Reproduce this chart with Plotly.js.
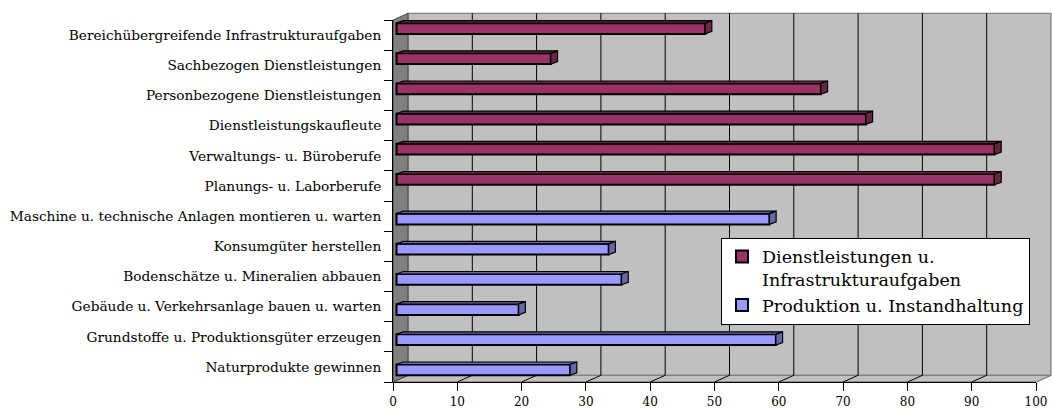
<!DOCTYPE html>
<html>
<head>
<meta charset="utf-8">
<script src="https://cdn.plot.ly/plotly-3.0.1.min.js"></script>
<style>html,body{margin:0;padding:0;background:#fff;}#chart{width:1052px;height:410px;}</style>
</head>
<body>
<div id="chart"></div>
<script>
// ---- data ----
const categories = [
  'Bereichübergreifende Infrastrukturaufgaben',
  'Sachbezogen Dienstleistungen',
  'Personbezogene Dienstleistungen',
  'Dienstleistungskaufleute',
  'Verwaltungs- u. Büroberufe',
  'Planungs- u. Laborberufe',
  'Maschine u. technische Anlagen montieren u. warten',
  'Konsumgüter herstellen',
  'Bodenschätze u. Mineralien abbauen',
  'Gebäude u. Verkehrsanlage bauen u. warten',
  'Grundstoffe u. Produktionsgüter erzeugen',
  'Naturprodukte gewinnen'
];
const dienstValues = [48, 24, 66, 73, 93, 93, null, null, null, null, null, null];
const prodValues   = [null, null, null, null, null, null, 58, 33, 35, 19, 59, 27];
const seriesNames = ['Dienstleistungen u.<br>Infrastrukturaufgaben', 'Produktion u. Instandhaltung'];
const xTickVals = [0, 10, 20, 30, 40, 50, 60, 70, 80, 90, 100];

// ---- geometry / style ----
const W = 1052, H = 410;
const M = {l: 393, r: 16, t: 20, b: 28};
const plotW = W - M.l - M.r, plotH = H - M.t - M.b;
const xMax = 100;
const pxPerX = plotW / xMax;
const pxPerY = plotH / categories.length;
const depth = {dx: 15, dy: 6.7};      // back wall offset (px)
const barShiftPx = 3.5;               // bars sit slightly behind the front plane
const cap = {dx: 6.7, dy: 2.5};       // 3D cap size (px)
const colors = {
  d: '#993366', dCap: '#6b2347',
  p: '#9999ff', pCap: '#6666aa',
  wall: '#c0c0c0', side: '#808080', edge: '#808080'
};
const bar = {width: 0.355, offD: -0.395, offP: -0.08};
const serif = 'DejaVu Serif, Liberation Serif, serif';

const yPos = categories.map((_, i) => i);

function px2paperX(px) { return (px - M.l) / plotW; }
function px2paperY(py) { return (H - M.b - py) / plotH; }

const shapes = [];
const L = M.l, R = W - M.r, T = M.t, B = H - M.b;
// back wall
shapes.push({type: 'path', xref: 'paper', yref: 'paper', layer: 'below',
  path: `M${px2paperX(L + depth.dx)},${px2paperY(T - depth.dy)} L${px2paperX(R + depth.dx)},${px2paperY(T - depth.dy)} L${px2paperX(R + depth.dx)},${px2paperY(B - depth.dy)} L${px2paperX(L + depth.dx)},${px2paperY(B - depth.dy)} Z`,
  fillcolor: colors.wall, line: {color: colors.edge, width: 1.3}});
// floor
shapes.push({type: 'path', xref: 'paper', yref: 'paper', layer: 'below',
  path: `M${px2paperX(L)},${px2paperY(B)} L${px2paperX(L + depth.dx)},${px2paperY(B - depth.dy)} L${px2paperX(R + depth.dx)},${px2paperY(B - depth.dy)} L${px2paperX(R)},${px2paperY(B)} Z`,
  fillcolor: colors.wall, line: {color: colors.edge, width: 1.3}});
// left side wall
shapes.push({type: 'path', xref: 'paper', yref: 'paper', layer: 'below',
  path: `M${px2paperX(L)},${px2paperY(T)} L${px2paperX(L + depth.dx)},${px2paperY(T - depth.dy)} L${px2paperX(L + depth.dx)},${px2paperY(B - depth.dy)} L${px2paperX(L)},${px2paperY(B)} Z`,
  fillcolor: colors.side, line: {color: '#333', width: 0.8}});
// gridlines on back wall and floor
xTickVals.forEach(v => {
  if (v === 0 || v === xMax) return;
  const fx = L + v * pxPerX, bx = fx + depth.dx;
  shapes.push({type: 'line', xref: 'paper', yref: 'paper', layer: 'below',
    x0: px2paperX(bx), x1: px2paperX(bx), y0: px2paperY(T - depth.dy), y1: px2paperY(B - depth.dy),
    line: {color: '#000', width: 1}});
  shapes.push({type: 'line', xref: 'paper', yref: 'paper', layer: 'below',
    x0: px2paperX(fx), x1: px2paperX(bx), y0: px2paperY(B), y1: px2paperY(B - depth.dy),
    line: {color: '#000', width: 1}});
});

// 3D caps and top faces of bars, built from the data
const capDx = cap.dx / pxPerX, capDy = cap.dy / pxPerY;
function addCaps(values, off, capColor) {
  values.forEach((v, i) => {
    if (v === null) return;
    const top = yPos[i] + off, bot = top + bar.width;
    shapes.push({type: 'path', xref: 'x2', yref: 'y', layer: 'above',
      path: `M0,${top} L${capDx},${top - capDy} L${v + capDx},${top - capDy} L${v},${top} Z`,
      fillcolor: capColor, line: {color: '#000', width: 1.2}});
    shapes.push({type: 'path', xref: 'x2', yref: 'y', layer: 'above',
      path: `M${v},${top} L${v + capDx},${top - capDy} L${v + capDx},${bot - capDy} L${v},${bot} Z`,
      fillcolor: capColor, line: {color: '#000', width: 1.2}});
  });
}
addCaps(dienstValues, bar.offD, colors.dCap);
addCaps(prodValues, bar.offP, colors.pCap);

const traces = [
  // empty trace so the front value axis (x) gets its own subplot and is drawn
  {type: 'scatter', x: [], y: [], xaxis: 'x', yaxis: 'y', showlegend: false, hoverinfo: 'skip'},
  {type: 'bar', orientation: 'h', name: seriesNames[0], x: dienstValues, y: yPos,
   xaxis: 'x2', yaxis: 'y', width: bar.width, offset: bar.offD,
   marker: {color: colors.d, line: {color: '#000', width: 2}}, hoverinfo: 'skip'},
  {type: 'bar', orientation: 'h', name: seriesNames[1], x: prodValues, y: yPos,
   xaxis: 'x2', yaxis: 'y', width: bar.width, offset: bar.offP,
   marker: {color: colors.p, line: {color: '#000', width: 2}}, hoverinfo: 'skip'}
];

const boundaries = [];
for (let i = 0; i <= categories.length; i++) boundaries.push(i - 0.5);

const layout = {
  width: W, height: H,
  margin: M,
  paper_bgcolor: '#fff', plot_bgcolor: 'rgba(0,0,0,0)',
  barmode: 'overlay',
  showlegend: true,
  legend: {x: px2paperX(721), y: px2paperY(237.7), xanchor: 'left', yanchor: 'top',
    bgcolor: '#fff', bordercolor: '#000', borderwidth: 1, valign: 'top',
    font: {family: serif, size: 17.5, color: '#000'}},
  xaxis: {range: [0, xMax], tickvals: xTickVals, ticks: 'outside', ticklen: 8, tickcolor: '#000',
    ticklabelstandoff: 1,
    showline: true, linecolor: '#000', linewidth: 1, showgrid: false, zeroline: false,
    tickfont: {family: serif, size: 12, color: '#000'}, fixedrange: true},
  xaxis2: {overlaying: 'x', range: [-barShiftPx / pxPerX, xMax - barShiftPx / pxPerX],
    visible: false, fixedrange: true},
  yaxis: {range: [categories.length - 0.5, -0.5], tickvals: yPos, ticktext: categories,
    ticks: 'outside', ticklen: 8, tickcolor: 'rgba(0,0,0,0)',
    minor: {tickmode: 'array', tickvals: boundaries, ticks: 'outside', ticklen: 8, tickcolor: '#000', showgrid: false},
    showline: true, linecolor: '#000', linewidth: 1, showgrid: false, zeroline: false,
    tickfont: {family: serif, size: 13.7, color: '#000'}, fixedrange: true},
  shapes: shapes
};

Plotly.newPlot('chart', traces, layout, {displayModeBar: false, staticPlot: true});
</script>
</body>
</html>
